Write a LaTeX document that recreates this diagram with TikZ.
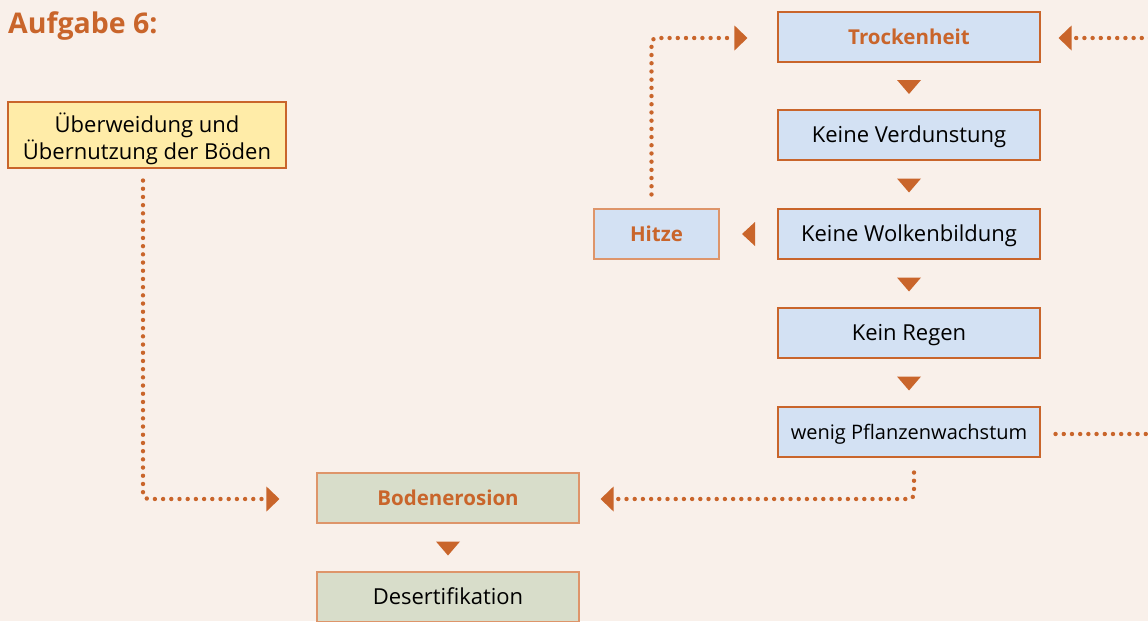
\documentclass[tikz,border=0pt]{standalone}
\usepackage{fontspec}
\setmainfont{Open Sans}
\usetikzlibrary{arrows.meta}
\definecolor{bg}{HTML}{F9F0EA}
\definecolor{org}{HTML}{C9652B}
\definecolor{orgl}{HTML}{DE956A}
\definecolor{bluef}{HTML}{D3E1F3}
\definecolor{yelf}{HTML}{FFECA8}
\definecolor{grnf}{HTML}{D8DDCA}
\tikzset{
  box/.style={draw=org, line width=1.1pt, minimum width=262pt, minimum height=50pt, inner sep=0pt, align=center, font=\fontsize{22}{27}\selectfont},
  onel/.style={text height=15pt, text depth=0pt},
  bluebox/.style={box, onel, fill=bluef},
  greenbox/.style={box, onel, fill=grnf, draw=orgl},
  hl/.style={text=org, font=\fontsize{20.5}{24}\selectfont\bfseries},
  dotarrow/.style={draw=org, line width=4.4pt, line cap=round, dash pattern=on 0pt off 8.2pt, rounded corners=5pt,
    -{Triangle[line width=0pt, length=13pt, width=25pt]}},
  dotline/.style={draw=org, line width=4.4pt, line cap=round, dash pattern=on 0pt off 8.2pt},
  downtri/.pic={\fill[org] (-12,-7) -- (12,-7) -- (0,7) -- cycle;},
  lefttri/.pic={\fill[org] (6.5,-12) -- (6.5,12) -- (-6.5,0) -- cycle;}
}
\begin{document}
\begin{tikzpicture}[x=1pt, y=-1pt]
\fill[bg] (0,0) rectangle (1148,621);
\useasboundingbox (0,0) rectangle (1148,621);

\node[anchor=base west, inner sep=0pt, text=org, font=\fontsize{28.5}{32}\selectfont\bfseries] (title) at (8,33) {Aufgabe 6:};

\node[box, fill=yelf, minimum width=278pt, minimum height=66pt] (ueber) at (147,135) {};
\node[align=center, inner sep=0pt, font=\fontsize{22}{27}\selectfont, yshift=-4pt] (uebertxt) at (ueber.center) {Überweidung und\\Übernutzung der Böden};

\node[bluebox, hl] (trock) at (909,37) {Trockenheit};
\node[bluebox] (verd) at (909,135) {Keine Verdunstung};
\node[bluebox] (wolk) at (909,234) {Keine Wolkenbildung};
\node[bluebox] (regen) at (909,333) {Kein Regen};
\node[bluebox, font=\fontsize{20}{24}\selectfont] (wenig) at (909,432) {wenig Pflanzenwachstum};
\node[bluebox, hl, draw=orgl, minimum width=125pt] (hitze) at (656.5,234) {Hitze};
\node[greenbox, hl] (boden) at (448,498) {Bodenerosion};
\node[greenbox] (desert) at (448,597) {Desertifikation};

% triangles between boxes
\path (trock.south) -- (verd.north) pic[pos=0.5, yshift=-1pt]{downtri};
\path (verd.south) -- (wolk.north) pic[pos=0.5, yshift=-1pt]{downtri};
\path (wolk.south) -- (regen.north) pic[pos=0.5, yshift=-1pt]{downtri};
\path (regen.south) -- (wenig.north) pic[pos=0.5, yshift=-1pt]{downtri};
\path (boden.south) -- (desert.north) pic[pos=0.5, yshift=-1pt]{downtri};
\path (wolk.west) -- (hitze.east) pic[pos=0.5]{lefttri};

% dotted connectors
\coordinate (rtop) at (1150,38);
\coordinate (rbot) at (1150,434);
\draw[dotarrow] ([xshift=-5pt, yshift=14pt]hitze.north) |- ([xshift=-30pt, yshift=-1pt]trock.west);
\draw[dotarrow] (rtop) -- ([xshift=18pt, yshift=-1pt]trock.east);
\draw[dotline] ([xshift=15pt, yshift=-2pt]wenig.east) -- (rbot);
\draw[dotarrow] ([xshift=5pt, yshift=-15pt]wenig.south) |- ([xshift=21pt, yshift=-1pt]boden.east);
\draw[dotarrow] ([xshift=-4pt, yshift=-12pt]ueber.south) |- ([xshift=-37pt, yshift=-1pt]boden.west);
\end{tikzpicture}
\end{document}
